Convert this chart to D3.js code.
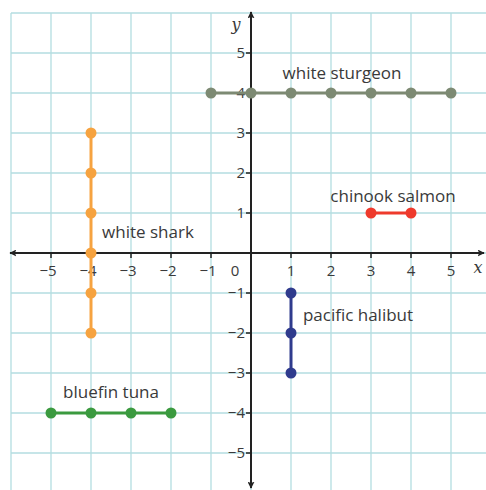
<!DOCTYPE html>
<html>
<head>
<meta charset="utf-8">
<script src="https://cdn.jsdelivr.net/npm/d3@7"></script>
<style>
  body { margin: 0; background: #fff; }
  text { font-family: "Open Sans", sans-serif; fill: #3a3a3a; }
</style>
</head>
<body>
<div id="chart"></div>
<script>
// dati
const xTicks = [-5, -4, -3, -2, -1, 1, 2, 3, 4, 5];
const yTicks = [5, 4, 3, 2, 1, -1, -2, -3, -4, -5];

const fishNames = ["white sturgeon", "white shark", "chinook salmon", "pacific halibut", "bluefin tuna"];
const sturgeon = [[-1, 4], [0, 4], [1, 4], [2, 4], [3, 4], [4, 4], [5, 4]];
const shark = [[-4, 3], [-4, 2], [-4, 1], [-4, 0], [-4, -1], [-4, -2]];
const salmon = [[3, 1], [4, 1]];
const halibut = [[1, -1], [1, -2], [1, -3]];
const tuna = [[-5, -4], [-4, -4], [-3, -4], [-2, -4]];

const W = 486, H = 490;

const svg = d3.select("#chart").append("svg")
    .attr("width", W).attr("height", H);

const x = d3.scaleLinear().domain([-6, 6]).range([11, 491]);
const y = d3.scaleLinear().domain([6, -6]).range([13, 493]);

// griglia
svg.append("g").selectAll("line")
    .data(d3.range(-6, 7))
    .enter().append("line")
    .attr("x1", d => x(d)).attr("x2", d => x(d))
    .attr("y1", y(6)).attr("y2", H)
    .attr("stroke", "#b3dde0").attr("stroke-width", 1.3);

svg.append("g").selectAll("line")
    .data(d3.range(-6, 7))
    .enter().append("line")
    .attr("y1", d => y(d)).attr("y2", d => y(d))
    .attr("x1", x(-6)).attr("x2", W)
    .attr("stroke", "#b3dde0").attr("stroke-width", 1.3);

// frecce
const defs = svg.append("defs");
defs.append("marker")
    .attr("id", "arrow")
    .attr("viewBox", "0 0 10 10")
    .attr("refX", 9).attr("refY", 5)
    .attr("markerWidth", 7).attr("markerHeight", 7)
    .attr("markerUnits", "userSpaceOnUse")
    .attr("orient", "auto-start-reverse")
    .append("path")
    .attr("d", "M0,0 L10,5 L0,10 L2,5 Z")
    .attr("fill", "#222");

// assi
const axisColor = "#222";
svg.append("line")
    .attr("x1", 10).attr("x2", 484)
    .attr("y1", y(0)).attr("y2", y(0))
    .attr("stroke", axisColor).attr("stroke-width", 2)
    .attr("marker-start", "url(#arrow)")
    .attr("marker-end", "url(#arrow)");

svg.append("line")
    .attr("x1", x(0)).attr("x2", x(0))
    .attr("y1", 488).attr("y2", 12)
    .attr("stroke", axisColor).attr("stroke-width", 2)
    .attr("marker-start", "url(#arrow)")
    .attr("marker-end", "url(#arrow)");

// tacche asse x
const xt = svg.append("g");
xt.selectAll("line").data(xTicks).enter().append("line")
    .attr("x1", d => x(d)).attr("x2", d => x(d))
    .attr("y1", y(0)).attr("y2", y(0) + 5)
    .attr("stroke", axisColor).attr("stroke-width", 1.5);
xt.selectAll("text").data(xTicks).enter().append("text")
    .attr("x", d => x(d) + (d < 0 ? -3 : 0))
    .attr("y", y(0) + 23)
    .attr("text-anchor", "middle")
    .style("font-size", "15px")
    .text(d => d < 0 ? "\u2212" + Math.abs(d) : d);

svg.append("text")
    .attr("x", x(0) - 16).attr("y", y(0) + 23)
    .attr("text-anchor", "middle")
    .style("font-size", "15px")
    .text("0");

// tacche asse y
const yt = svg.append("g");
yt.selectAll("line").data(yTicks).enter().append("line")
    .attr("x1", x(0) - 5).attr("x2", x(0))
    .attr("y1", d => y(d)).attr("y2", d => y(d))
    .attr("stroke", axisColor).attr("stroke-width", 1.5);
yt.selectAll("text").data(yTicks).enter().append("text")
    .attr("x", x(0) - 6)
    .attr("y", d => y(d) + 5)
    .attr("text-anchor", "end")
    .style("font-size", "15px")
    .text(d => d < 0 ? "\u2212" + Math.abs(d) : d);

// etichette assi
svg.append("text")
    .attr("x", 478).attr("y", y(0) + 20)
    .attr("text-anchor", "middle")
    .style("font-family", "'DejaVu Serif', serif")
    .style("font-style", "italic")
    .style("font-size", "16px")
    .text("x");

svg.append("text")
    .attr("x", x(0) - 15).attr("y", 30)
    .attr("text-anchor", "middle")
    .style("font-family", "'DejaVu Serif', serif")
    .style("font-style", "italic")
    .style("font-size", "16px")
    .text("y");

// serie
const series = [
    { name: fishNames[0], pts: sturgeon, color: "#7d8a73", lx: 342, ly: 79 },
    { name: fishNames[1], pts: shark, color: "#f6a340", lx: 148, ly: 238 },
    { name: fishNames[2], pts: salmon, color: "#ee3a2c", lx: 393, ly: 202 },
    { name: fishNames[3], pts: halibut, color: "#2f3b8d", lx: 358, ly: 321 },
    { name: fishNames[4], pts: tuna, color: "#3b9a3f", lx: 111, ly: 398 }
];

const line = d3.line().x(d => x(d[0])).y(d => y(d[1]));

series.forEach(s => {
    const g = svg.append("g");
    g.append("path")
        .attr("d", line(s.pts))
        .attr("fill", "none")
        .attr("stroke", s.color)
        .attr("stroke-width", 3);
    g.selectAll("circle").data(s.pts).enter().append("circle")
        .attr("cx", d => x(d[0])).attr("cy", d => y(d[1]))
        .attr("r", 5.5)
        .attr("fill", s.color);
    svg.append("text")
        .attr("x", s.lx).attr("y", s.ly)
        .attr("text-anchor", "middle")
        .style("font-size", "17px")
        .text(s.name);
});
</script>
</body>
</html>
